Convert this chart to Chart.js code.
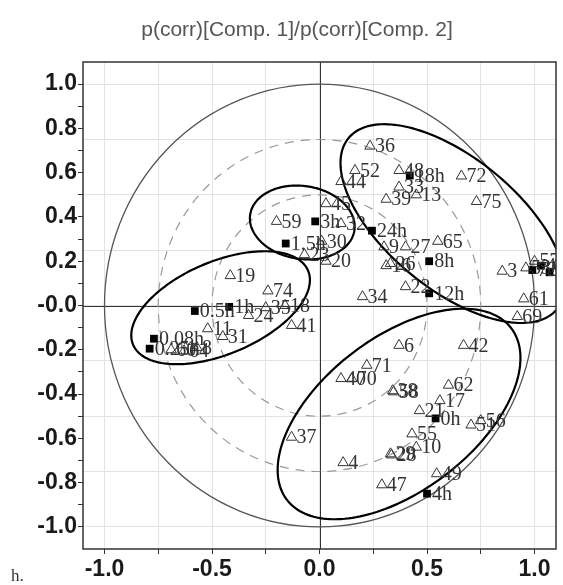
<!DOCTYPE html>
<html>
<head>
<meta charset="utf-8">
<script src="https://cdn.jsdelivr.net/npm/chart.js@4.4.1/dist/chart.umd.min.js"></script>
<style>
  html, body { margin: 0; padding: 0; background: #fff; }
</style>
</head>
<body>
<canvas id="loadings" width="563" height="585"></canvas>
<script>
// variables (open triangles)
var varLabels = ['36','52','44','48','33','13','39','72','75','9','27','65','16','26','22','34','3','53','57','61','69',
                 '59','45','32','30','23','20',
                 '19','74','24','35','18','41','11','31','60','64','8',
                 '6','42','71','70','40','38','58','62','17','21','51','56','55','10','37','4','29','28','47','49'];
var varX = [0.235,0.165,0.10,0.37,0.37,0.45,0.31,0.66,0.73,0.30,0.40,0.55,0.31,0.33,0.40,0.20,0.85,0.96,1.00,0.95,0.92,
            -0.20,0.03,0.10,0.01,-0.07,0.03,
            -0.415,-0.24,-0.33,-0.25,-0.16,-0.13,-0.52,-0.45,-0.69,-0.63,-0.57,
            0.37,0.67,0.22,0.15,0.10,0.34,0.345,0.60,0.56,0.465,0.705,0.75,0.43,0.45,-0.13,0.11,0.33,0.335,0.29,0.545];
var varY = [0.72,0.61,0.56,0.61,0.535,0.50,0.48,0.585,0.47,0.265,0.265,0.29,0.18,0.19,0.085,0.04,0.155,0.17,0.20,0.03,-0.05,
            0.38,0.46,0.37,0.29,0.23,0.20,
            0.135,0.066,-0.045,-0.01,0.0,-0.09,-0.105,-0.14,-0.20,-0.205,-0.19,
            -0.18,-0.18,-0.27,-0.33,-0.33,-0.385,-0.39,-0.36,-0.43,-0.475,-0.54,-0.52,-0.58,-0.64,-0.595,-0.71,-0.67,-0.675,-0.81,-0.76];

// time points (filled squares)
var timeLabels = ['18h','24h','8h','12h','72h','48h','96h','3h','1.5h','0.5h','1h','0.08h','0.25h','0h','4h'];
var timeX = [0.42,0.244,0.51,0.51,0.99,1.03,1.07,-0.02,-0.157,-0.58,-0.42,-0.77,-0.79,0.54,0.50];
var timeY = [0.587,0.338,0.20,0.055,0.16,0.18,0.15,0.38,0.28,-0.025,-0.006,-0.15,-0.195,-0.51,-0.85];

// axis ticks
var xTickValues = [-1.0,-0.75,-0.5,-0.25,0.0,0.25,0.5,0.75,1.0];
var xLabelValues = [-1.0,-0.5,0.0,0.5,1.0];
var yTickValues = [-1.0,-0.9,-0.8,-0.7,-0.6,-0.5,-0.4,-0.3,-0.2,-0.1,0.0,0.1,0.2,0.3,0.4,0.5,0.6,0.7,0.8,0.9,1.0];
var yLabelValues = [-1.0,-0.8,-0.6,-0.4,-0.2,0.0,0.2,0.4,0.6,0.8,1.0];
var gridValues = [-1.0,-0.75,-0.5,-0.25,0.0,0.25,0.5,0.75,1.0];

// reference circles (radius) and cluster ellipses
var solidCircles = [1.0];
var dashedCircles = [0.5, 0.75];
var clusterEllipses = [
  {cx: 0.62, cy: 0.37, a: 0.62, b: 0.30, angle: -38},
  {cx: -0.08, cy: 0.375, a: 0.245, b: 0.165, angle: -8},
  {cx: -0.46, cy: -0.01, a: 0.44, b: 0.21, angle: 22},
  {cx: 0.37, cy: -0.49, a: 0.65, b: 0.35, angle: 36}
];

function hasValue(list, v) {
  for (var i = 0; i < list.length; i++) {
    if (Math.abs(list[i] - v) < 1e-6) return true;
  }
  return false;
}

function toPoints(xs, ys) {
  return xs.map(function(x, i) { return {x: x, y: ys[i]}; });
}

var background = {
  id: 'background',
  beforeDatasetsDraw: function(chart) {
    var ctx = chart.ctx, area = chart.chartArea;
    var xs = chart.scales.x, ys = chart.scales.y;
    var cx = xs.getPixelForValue(0), cy = ys.getPixelForValue(0);
    ctx.save();
    ctx.beginPath();
    ctx.rect(area.left, area.top, area.right - area.left, area.bottom - area.top);
    ctx.clip();

    // axes through origin
    ctx.strokeStyle = '#333';
    ctx.lineWidth = 1;
    ctx.beginPath();
    ctx.moveTo(area.left, Math.round(cy) + 0.5);
    ctx.lineTo(area.right, Math.round(cy) + 0.5);
    ctx.moveTo(Math.round(cx) + 0.5, area.top);
    ctx.lineTo(Math.round(cx) + 0.5, area.bottom);
    ctx.stroke();

    solidCircles.forEach(function(r) {
      ctx.strokeStyle = '#555';
      ctx.lineWidth = 1.3;
      ctx.setLineDash([]);
      ctx.beginPath();
      ctx.ellipse(cx, cy, xs.getPixelForValue(r) - cx, cy - ys.getPixelForValue(r), 0, 0, Math.PI * 2);
      ctx.stroke();
    });
    dashedCircles.forEach(function(r) {
      ctx.strokeStyle = '#999';
      ctx.lineWidth = 1.2;
      ctx.setLineDash([9, 7]);
      ctx.beginPath();
      ctx.ellipse(cx, cy, xs.getPixelForValue(r) - cx, cy - ys.getPixelForValue(r), 0, 0, Math.PI * 2);
      ctx.stroke();
    });
    ctx.setLineDash([]);

    // cluster ellipses
    ctx.strokeStyle = '#000';
    ctx.lineWidth = 2.2;
    clusterEllipses.forEach(function(e) {
      var th = e.angle * Math.PI / 180;
      ctx.beginPath();
      for (var k = 0; k <= 180; k++) {
        var t = k / 180 * Math.PI * 2;
        var dx = e.a * Math.cos(t) * Math.cos(th) - e.b * Math.sin(t) * Math.sin(th);
        var dy = e.a * Math.cos(t) * Math.sin(th) + e.b * Math.sin(t) * Math.cos(th);
        var px = xs.getPixelForValue(e.cx + dx), py = ys.getPixelForValue(e.cy + dy);
        if (k === 0) ctx.moveTo(px, py); else ctx.lineTo(px, py);
      }
      ctx.closePath();
      ctx.stroke();
    });
    ctx.restore();
  },
  afterDatasetsDraw: function(chart) {
    var ctx = chart.ctx, area = chart.chartArea;
    ctx.save();
    ctx.beginPath();
    ctx.rect(area.left, area.top, area.right - area.left, area.bottom - area.top);
    ctx.clip();
    ctx.font = '20px "Liberation Serif", "Times New Roman", serif';
    ctx.fillStyle = '#333';
    ctx.textBaseline = 'middle';
    chart.data.datasets.forEach(function(ds, i) {
      var meta = chart.getDatasetMeta(i);
      meta.data.forEach(function(pt, j) {
        ctx.fillText(ds.labels[j], pt.x + 5, pt.y + 1);
      });
    });
    ctx.restore();

    // frame
    ctx.save();
    ctx.strokeStyle = '#333';
    ctx.lineWidth = 1.5;
    ctx.strokeRect(area.left, area.top, area.right - area.left, area.bottom - area.top);
    ctx.restore();
  },
  afterDraw: function(chart) {
    var ctx = chart.ctx;
    ctx.save();
    ctx.fillStyle = '#555';
    ctx.font = '21px "Liberation Sans", Arial, sans-serif';
    ctx.textAlign = 'center';
    ctx.textBaseline = 'middle';
    ctx.fillText('p(corr)[Comp. 1]/p(corr)[Comp. 2]', 297, 30);
    ctx.fillStyle = '#333';
    ctx.font = '17px "Liberation Serif", serif';
    ctx.textAlign = 'left';
    ctx.fillText('h.', 11, 577);
    ctx.restore();
  }
};

var tickFont = {family: '"Liberation Sans", Arial, sans-serif', size: 23, weight: 'bold'};

var loadingChart = new Chart(document.getElementById('loadings'), {
  type: 'scatter',
  data: {
    datasets: [{
      labels: varLabels,
      data: toPoints(varX, varY),
      pointStyle: 'triangle',
      pointRadius: 6,
      borderWidth: 1,
      borderColor: '#333',
      backgroundColor: 'rgba(0,0,0,0)'
    }, {
      labels: timeLabels,
      data: toPoints(timeX, timeY),
      pointStyle: 'rect',
      pointRadius: 5.5,
      borderWidth: 0,
      borderColor: '#000',
      backgroundColor: '#000'
    }]
  },
  options: {
    responsive: false,
    devicePixelRatio: 1,
    animation: false,
    layout: { padding: {top: 62, right: 2, left: 0, bottom: 0} },
    plugins: {
      legend: { display: false },
      tooltip: { enabled: false },
      title: { display: false }
    },
    scales: {
      x: {
        type: 'linear',
        min: -1.1,
        max: 1.1,
        afterBuildTicks: function(scale) {
          scale.ticks = xTickValues.map(function(v) { return {value: v}; });
        },
        afterFit: function(scale) { scale.height = 36; },
        border: { display: false },
        grid: {
          color: function(c) { return hasValue(gridValues, c.tick.value) ? '#e3e3e3' : 'rgba(0,0,0,0)'; },
          tickColor: '#333',
          tickLength: 5
        },
        ticks: {
          autoSkip: false,
          maxRotation: 0,
          padding: 2,
          color: '#1a1a1a',
          font: tickFont,
          callback: function(v) { return hasValue(xLabelValues, v) ? v.toFixed(1) : ''; }
        }
      },
      y: {
        type: 'linear',
        min: -1.1,
        max: 1.1,
        afterBuildTicks: function(scale) {
          var vals = yTickValues.slice();
          gridValues.forEach(function(g) { if (!hasValue(vals, g)) vals.push(g); });
          vals.sort(function(a, b) { return a - b; });
          scale.ticks = vals.map(function(v) { return {value: v}; });
        },
        afterFit: function(scale) { scale.width = 83; },
        border: { display: false },
        grid: {
          color: function(c) { return hasValue(gridValues, c.tick.value) ? '#e3e3e3' : 'rgba(0,0,0,0)'; },
          tickColor: function(c) { return hasValue(yTickValues, c.tick.value) ? '#333' : 'rgba(0,0,0,0)'; },
          tickLength: 5
        },
        ticks: {
          autoSkip: false,
          padding: 1,
          color: '#1a1a1a',
          font: tickFont,
          callback: function(v) {
            if (!hasValue(yLabelValues, v)) return '';
            return Math.abs(v) < 1e-6 ? '-0.0' : v.toFixed(1);
          }
        }
      }
    }
  },
  plugins: [background]
});
</script>
</body>
</html>
